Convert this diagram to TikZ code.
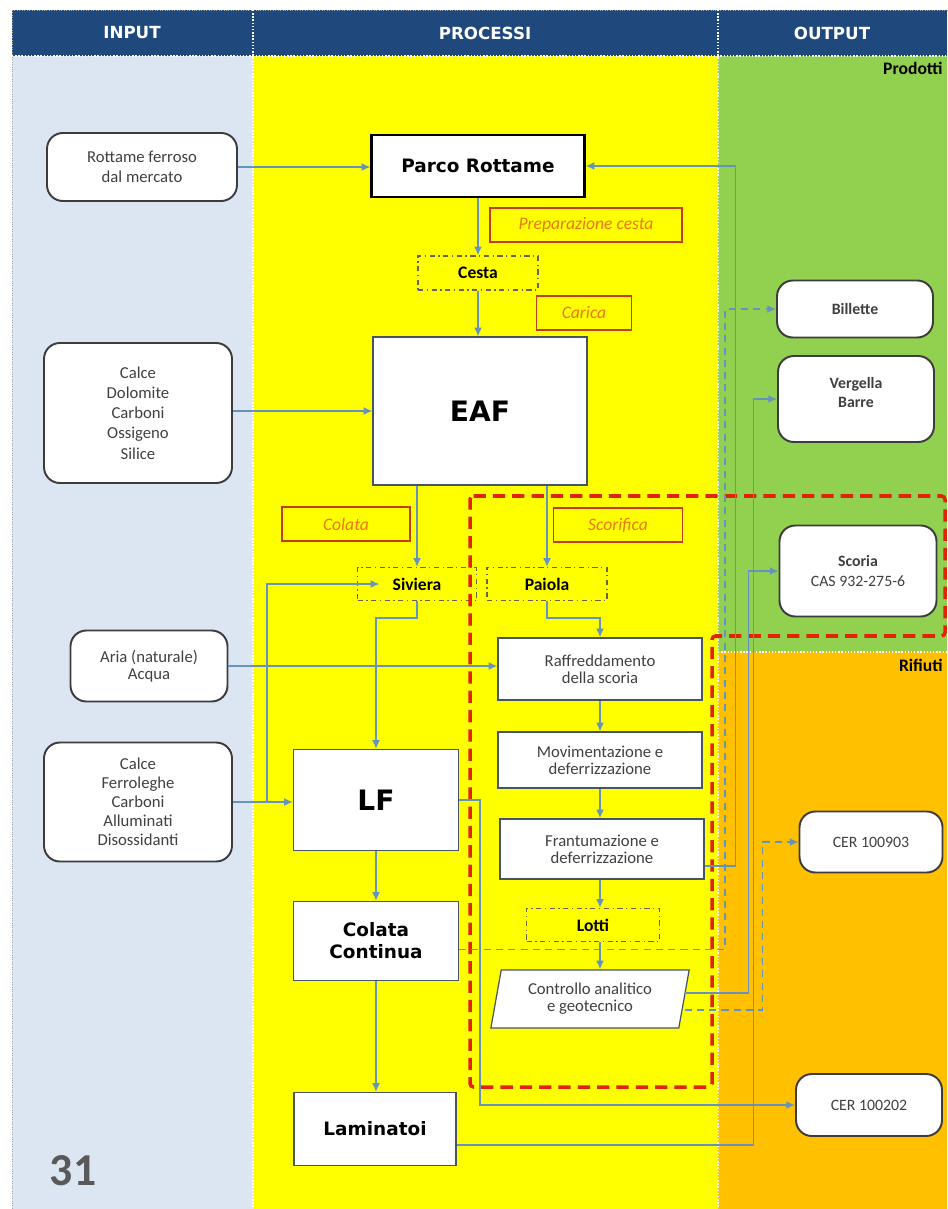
\documentclass[tikz,border=0pt]{standalone}
\usepackage{fontspec}
\setmainfont{Carlito}
\newfontfamily\heavyfont{DejaVu Sans}
\usetikzlibrary{arrows.meta,shapes.geometric}
\definecolor{headbg}{RGB}{31,73,125}
\definecolor{inputbg}{RGB}{220,230,242}
\definecolor{procbg}{RGB}{255,255,0}
\definecolor{prodbg}{RGB}{146,208,80}
\definecolor{wastebg}{RGB}{255,192,0}
\definecolor{connblue}{RGB}{100,148,190}
\definecolor{boxline}{RGB}{70,85,100}
\definecolor{roundline}{RGB}{60,60,60}
\definecolor{potline}{RGB}{100,100,70}
\definecolor{tagline}{RGB}{195,60,20}
\definecolor{tagtext}{RGB}{238,118,18}
\definecolor{slagred}{RGB}{225,35,10}
\definecolor{txtgray}{RGB}{64,64,64}

\begin{document}
\begin{tikzpicture}[x=0.02cm,y=-0.02cm]
		\tikzstyle{every node}+=[inner sep=0pt]
		\tikzstyle{sep}=[white, line width=0.8pt, densely dotted]
		\tikzstyle{head}=[white, font=\heavyfont\bfseries\fontsize{9.5}{11}\selectfont]
		\tikzstyle{zone}=[font=\bfseries\fontsize{10}{12}\selectfont]
		\tikzstyle{proc}=[draw=boxline, fill=white, line width=0.7pt, align=center]
		\tikzstyle{bigproc}=[proc, font=\heavyfont\bfseries\fontsize{10.5}{12.5}\selectfont]
		\tikzstyle{subproc}=[proc, text=txtgray, font=\fontsize{9.5}{9.6}\selectfont]
		\tikzstyle{source}=[draw=roundline, fill=white, line width=1.1pt, rounded corners=9pt, align=center, text=txtgray, font=\fontsize{9.5}{11.5}\selectfont]
		\tikzstyle{pot}=[draw=potline, line width=0.7pt, dash dot, font=\bfseries\fontsize{10}{12}\selectfont]
		\tikzstyle{tag}=[draw=tagline, line width=0.9pt, text=tagtext, font=\itshape\fontsize{10}{12}\selectfont, minimum height=0.68cm]
		\tikzstyle{conn}=[draw=connblue, line width=0.8pt, -{Latex[length=5pt,width=4.5pt]}]
		\tikzstyle{connd}=[conn, dash pattern=on 4pt off 3pt]
		\useasboundingbox (0,0) rectangle (947,1209);
		\fill[inputbg] (12,56) rectangle (253,1209);
		\fill[procbg] (253,56) rectangle (718,1209);
		\fill[prodbg] (718,56) rectangle (947,652);
		\fill[wastebg] (718,652) rectangle (947,1209);
		\fill[headbg] (12,10) rectangle (947,56);
		\draw[gray!70, densely dotted] (12,10) -- (947,10);
		\draw[gray!70, densely dotted] (12,10) -- (12,1209);
		\draw[sep] (253,10) -- (253,1209);
		\draw[sep] (718,10) -- (718,1209);
		\draw[sep] (718,652) -- (947,652);
		\draw[sep] (12,56) -- (947,56);
		\node[head] (hin) at (132,33) {INPUT};
		\node[head] (hproc) at (485,33) {PROCESSI};
		\node[head] (hout) at (832,33) {OUTPUT};
		\node[zone, anchor=east] (prod) at (943,68) {Prodotti};
		\node[zone, anchor=east] (rif) at (943,665) {Rifiuti};
		\node[source, minimum width=3.8cm, minimum height=1.36cm] (rottame) at (142,167) {Rottame ferroso\\dal mercato};
		\node[source, minimum width=3.76cm, minimum height=2.8cm] (calceA) at (138,413) {Calce\\Dolomite\\Carboni\\Ossigeno\\Silice};
		\node[source, minimum width=3.14cm, minimum height=1.42cm, font=\fontsize{9.5}{9.6}\selectfont] (aria) at (149,666) {Aria (naturale)\\Acqua};
		\node[source, minimum width=3.76cm, minimum height=2.38cm, font=\fontsize{9.5}{10.8}\selectfont] (calceB) at (138,802) {Calce\\Ferroleghe\\Carboni\\Alluminati\\Disossidanti};
		\node[bigproc, draw=black, line width=1.3pt, minimum width=4.26cm, minimum height=1.24cm] (parco) at (478,166) {Parco Rottame};
		\node[tag, minimum width=3.84cm] (prep) at (586,225) {Preparazione cesta};
		\node[pot, minimum width=2.4cm, minimum height=0.68cm] (cesta) at (478,273) {Cesta};
		\node[tag, minimum width=1.9cm] (carica) at (584,313) {Carica};
		\node[bigproc, font=\heavyfont\bfseries\fontsize{16}{18}\selectfont, minimum width=4.28cm, minimum height=2.96cm] (eaf) at (480,411) {EAF};
		\node[tag, minimum width=2.56cm] (colata) at (346,524) {Colata};
		\node[tag, minimum width=2.58cm] (scorifica) at (618,525) {Scorifica};
		\node[pot, minimum width=2.38cm, minimum height=0.66cm] (siviera) at (417,584) {Siviera};
		\node[pot, minimum width=2.4cm, minimum height=0.66cm] (paiola) at (547,584) {Paiola};
		\node[subproc, minimum width=4.08cm, minimum height=1.24cm] (raff) at (600,669) {Raffreddamento\\della scoria};
		\node[subproc, minimum width=4.08cm, minimum height=1.12cm] (movim) at (600,760) {Movimentazione e\\deferrizzazione};
		\node[subproc, minimum width=4.08cm, minimum height=1.2cm] (frant) at (602,849) {Frantumazione e\\deferrizzazione};
		\node[pot, minimum width=2.66cm, minimum height=0.66cm] (lotti) at (593,925) {Lotti};
		\node[subproc, trapezium, trapezium left angle=77, trapezium right angle=103, trapezium stretches=true, minimum width=4cm, minimum height=1.16cm] (ctrl) at (590,999) {Controllo analitico\\e geotecnico};
		\node[bigproc, font=\heavyfont\bfseries\fontsize{16}{18}\selectfont, minimum width=3.3cm, minimum height=2.02cm] (lf) at (376,800) {LF};
		\node[bigproc, minimum width=3.3cm, minimum height=1.58cm] (cc) at (376,941) {Colata\\Continua};
		\node[bigproc, minimum width=3.24cm, minimum height=1.46cm] (lam) at (375,1129) {Laminatoi};
		\node[source, font=\bfseries\fontsize{9}{11}\selectfont, minimum width=3.12cm, minimum height=1.14cm] (billette) at (855,309) {Billette};
		\node[source, font=\bfseries\fontsize{9}{11}\selectfont, minimum width=3.12cm, minimum height=1.72cm, text depth=0.25cm] (vergella) at (856,399) {Vergella\\Barre};
		\node[source, font=\fontsize{9}{11}\selectfont, minimum width=3.14cm, minimum height=1.82cm] (scoria) at (858,571) {\textbf{Scoria}\\CAS 932-275-6};
		\node[source, font=\fontsize{9}{11}\selectfont, minimum width=2.86cm, minimum height=1.22cm] (cerA) at (871,842) {CER 100903};
		\node[source, font=\fontsize{9}{11}\selectfont, minimum width=2.92cm, minimum height=1.24cm] (cerB) at (869,1105) {CER 100202};
		\node[text=black!65, font=\bfseries\fontsize{26}{28}\selectfont] (pagina) at (73,1171) {31};
		\draw[slagred, line width=2pt, dash pattern=on 7pt off 4pt, rounded corners=2pt] (470,496) -- (945,496) -- (945,636) -- (712,636) -- (712,1087) -- (470,1087) -- cycle;
		\draw[conn] (rottame.east) -- (rottame.east -| parco.west);
		\draw[conn] (parco.south) -- (cesta.north);
		\draw[conn] (cesta.south) -- (cesta.south |- eaf.north);
		\draw[conn] (calceA.east |- eaf.west) -- (eaf.west);
		\draw[conn] (siviera.north |- eaf.south) -- (siviera.north);
		\draw[conn] (paiola.north |- eaf.south) -- (paiola.north);
		\draw[conn] (siviera.south) -- ++(0,17) -| (lf.north);
		\draw[conn] (paiola.south) -- ++(0,17) -| (raff.north);
		\draw[conn] (aria.east) -- (aria.east -| raff.west);
		\draw[conn] (calceB.east) -- (calceB.east -| lf.west);
		\draw[conn] (calceB.east) ++(34,0) |- ([xshift=0.45cm]siviera.west);
		\draw[conn] (raff.south) -- (raff.south |- movim.north);
		\draw[conn] (movim.south) -- (movim.south |- frant.north);
		\draw[conn] (movim.south |- frant.south) -- (movim.south |- lotti.north);
		\draw[conn] (movim.south |- lotti.south) -- (movim.south |- ctrl.north);
		\draw[conn] (lf.south) -- (cc.north);
		\draw[conn] (cc.south) -- (cc.south |- lam.north);
		\draw[conn] (lf.east) -- ++(21,0) |- (cerB.west);
		\draw[conn] ([yshift=-0.32cm]lam.east) -- ++(297,0) |- (vergella.west);
		\draw[conn] ([yshift=0.12cm]ctrl.east) -- ++(64,0) |- (scoria.west);
		\draw[connd] ([yshift=-0.22cm]ctrl.east) -- ++(78,0) |- (cerA.west);
		\draw[connd] ([yshift=-0.17cm]cc.east) -- ++(266,0) |- (billette.west);
		\draw[conn] ([yshift=-0.34cm]frant.east) -- ++(31,0) |- (parco.east);
	\end{tikzpicture}
\end{document}
